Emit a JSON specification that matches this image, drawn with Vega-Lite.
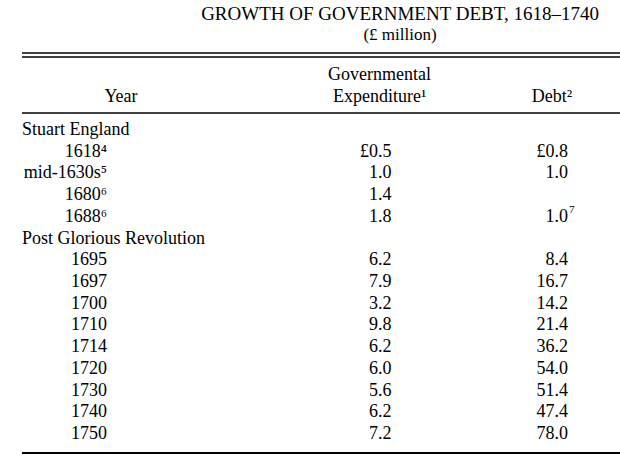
{
  "$schema": "https://vega.github.io/schema/vega-lite/v6.json",
  "width": 620,
  "height": 412,
  "autosize": {"type": "none"},
  "padding": {"left": 0, "right": 0, "top": 45, "bottom": 0},
  "background": "white",
  "config": {
    "view": {"stroke": null},
    "text": {"font": "Liberation Serif", "fontSize": 18, "color": "black"}
  },
  "title": {
    "text": "GROWTH OF GOVERNMENT DEBT, 1618–1740",
    "subtitle": "(£ million)",
    "anchor": "middle",
    "dx": 90,
    "offset": 2,
    "font": "Liberation Serif",
    "fontSize": 19,
    "fontWeight": "normal",
    "color": "black",
    "subtitleFont": "Liberation Serif",
    "subtitleFontSize": 17,
    "subtitleColor": "black",
    "subtitlePadding": 3
  },
  "data": {
    "values": [
      {"label": "Stuart England", "kind": "section"},
      {"label": "1618⁴", "kind": "entry", "exp": "£0.5", "debt": "£0.8"},
      {"label": "mid-1630s⁵", "kind": "entry", "exp": "1.0", "debt": "1.0"},
      {"label": "1680⁶", "kind": "entry", "exp": "1.4"},
      {"label": "1688⁶", "kind": "entry", "exp": "1.8", "debt": "1.0", "note": "7"},
      {"label": "Post Glorious Revolution", "kind": "section"},
      {"label": "1695", "kind": "entry", "exp": "6.2", "debt": "8.4"},
      {"label": "1697", "kind": "entry", "exp": "7.9", "debt": "16.7"},
      {"label": "1700", "kind": "entry", "exp": "3.2", "debt": "14.2"},
      {"label": "1710", "kind": "entry", "exp": "9.8", "debt": "21.4"},
      {"label": "1714", "kind": "entry", "exp": "6.2", "debt": "36.2"},
      {"label": "1720", "kind": "entry", "exp": "6.0", "debt": "54.0"},
      {"label": "1730", "kind": "entry", "exp": "5.6", "debt": "51.4"},
      {"label": "1740", "kind": "entry", "exp": "6.2", "debt": "47.4"},
      {"label": "1750", "kind": "entry", "exp": "7.2", "debt": "78.0"}
    ]
  },
  "resolve": {"scale": {"y": "independent"}},
  "layer": [
    {
      "data": {"values": [{}]},
      "mark": {"type": "rule", "strokeWidth": 1.6, "color": "black"},
      "encoding": {"x": {"value": 22}, "x2": {"value": 620}, "y": {"value": 8}}
    },
    {
      "data": {"values": [{}]},
      "mark": {"type": "rule", "strokeWidth": 1.6, "color": "black"},
      "encoding": {"x": {"value": 22}, "x2": {"value": 620}, "y": {"value": 12}}
    },
    {
      "data": {"values": [{}]},
      "mark": {"type": "rule", "strokeWidth": 1.6, "color": "black"},
      "encoding": {"x": {"value": 22}, "x2": {"value": 620}, "y": {"value": 68}}
    },
    {
      "data": {"values": [{}]},
      "mark": {"type": "rule", "strokeWidth": 2, "color": "black"},
      "encoding": {"x": {"value": 22}, "x2": {"value": 620}, "y": {"value": 408}}
    },
    {
      "data": {
        "values": [
          {"col": "exp", "hline": "1", "text": "Governmental"},
          {"col": "year", "hline": "2", "text": "Year"},
          {"col": "exp", "hline": "2", "text": "Expenditure¹"},
          {"col": "debt", "hline": "2", "text": "Debt²"}
        ]
      },
      "mark": {"type": "text", "align": "center", "baseline": "middle"},
      "encoding": {
        "x": {"field": "col", "type": "nominal", "scale": {"type": "point", "domain": ["year", "s1", "s2", "exp", "s3", "debt"], "range": [121, 552], "padding": 0}, "axis": null},
        "y": {"field": "hline", "type": "ordinal", "scale": {"type": "point", "range": [30, 52], "padding": 0}, "axis": null},
        "text": {"field": "text"}
      }
    },
    {
      "layer": [
        {
          "mark": {"type": "text", "align": "left", "baseline": "middle", "dx": -99},
          "encoding": {
            "x": {"datum": "year", "type": "nominal", "axis": null},
            "y": {"field": "label", "type": "ordinal", "sort": null, "scale": {"type": "point", "range": [85, 389], "padding": 0}, "axis": null},
            "text": {"condition": {"test": "datum.kind === 'section'", "field": "label"}, "value": ""}
          }
        },
        {
          "mark": {"type": "text", "align": "right", "baseline": "middle", "dx": -14},
          "encoding": {
            "x": {"datum": "year", "type": "nominal", "axis": null},
            "y": {"field": "label", "type": "ordinal", "sort": null, "axis": null},
            "text": {"condition": {"test": "datum.kind === 'entry'", "field": "label"}, "value": ""}
          }
        },
        {
          "mark": {"type": "text", "align": "right", "baseline": "middle", "dx": 12},
          "encoding": {
            "x": {"datum": "exp", "type": "nominal", "axis": null},
            "y": {"field": "label", "type": "ordinal", "sort": null, "axis": null},
            "text": {"condition": {"test": "datum.exp != null", "field": "exp"}, "value": ""}
          }
        },
        {
          "mark": {"type": "text", "align": "right", "baseline": "middle", "dx": 16},
          "encoding": {
            "x": {"datum": "debt", "type": "nominal", "axis": null},
            "y": {"field": "label", "type": "ordinal", "sort": null, "axis": null},
            "text": {"condition": {"test": "datum.debt != null", "field": "debt"}, "value": ""}
          }
        },
        {
          "mark": {"type": "text", "align": "left", "baseline": "middle", "dx": 17, "dy": -7, "fontSize": 11},
          "encoding": {
            "x": {"datum": "debt", "type": "nominal", "axis": null},
            "y": {"field": "label", "type": "ordinal", "sort": null, "axis": null},
            "text": {"condition": {"test": "datum.note != null", "field": "note"}, "value": ""}
          }
        }
      ]
    }
  ]
}
